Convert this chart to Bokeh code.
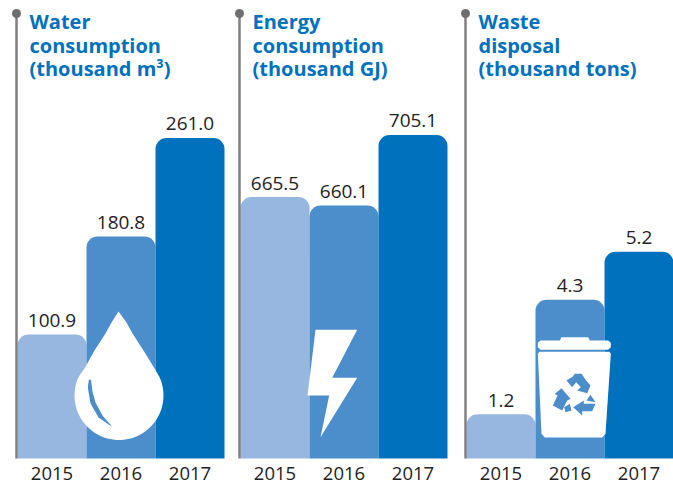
import numpy as np
from bokeh.core.properties import value
from bokeh.embed import file_html
from bokeh.layouts import row
from bokeh.models import ColumnDataSource, FixedTicker, Range1d
from bokeh.plotting import figure
from bokeh.resources import INLINE

years = ["2015", "2016", "2017"]
colors = ["#97b7e0", "#4c8ecb", "#0071bc"]

water_values = [100.9, 180.8, 261.0]
energy_values = [665.5, 660.1, 705.1]
# the third bar of the waste panel is drawn taller than its printed 5.2
waste_labels_values = [1.2, 4.3, 5.2]
waste_heights = [1.2, 4.3, 5.6]

water_title = ["Water", "consumption", "(thousand m³)"]
energy_title = ["Energy", "consumption", "(thousand GJ)"]
waste_title = ["Waste", "disposal", "(thousand tons)"]

BASE = 458.0
BAR = 69.0
TOTAL_H = 484


def panel(values, labels, title, y0, px_per_unit, left, width, bar_left, line_x, title_x):
    def X(px):
        return (np.asarray(px, float) - bar_left) / BAR - 0.5

    def Y(py):
        return y0 + (BASE - np.asarray(py, float)) / px_per_unit

    p = figure(
        frame_width=width, frame_height=TOTAL_H, height=TOTAL_H, width=width,
        x_range=Range1d(float(X(left)), float(X(left + width))),
        y_range=Range1d(float(Y(TOTAL_H)), float(Y(0))),
        output_backend="svg", toolbar_location=None, min_border=0,
        min_border_left=0, min_border_right=0, min_border_top=0, min_border_bottom=0,
        outline_line_color=None,
    )
    p.grid.visible = False
    p.yaxis.visible = False
    ax = p.xaxis[0]
    ax.fixed_location = y0
    ax.ticker = FixedTicker(ticks=[0, 1, 2])
    ax.major_label_overrides = {i: y for i, y in enumerate(years)}
    ax.axis_line_color = None
    ax.major_tick_line_color = None
    ax.minor_tick_line_color = None
    ax.major_label_text_font = "Open Sans"
    ax.major_label_text_font_size = "18.5px"
    ax.major_label_text_color = "#222222"
    ax.major_label_standoff = 2

    src = ColumnDataSource(dict(x=[0, 1, 2], top=values, color=colors,
                                label=[f"{v:.1f}" for v in labels]))
    p.vbar(x="x", top="top", bottom=y0, width=1.0, fill_color="color",
           line_color=None, source=src, border_radius=(11, 11, 0, 0))
    p.text(x="x", y="top", text="label", source=src, text_align="center",
           text_baseline="alphabetic", y_offset=-14, text_font=value("Open Sans"),
           text_font_size="19px", text_color="#222222")

    # stem and dot
    p.segment(float(X(line_x)), float(Y(13)), float(X(line_x)), y0,
              line_color="#808080", line_width=2.5)
    p.scatter([float(X(line_x))], [float(Y(13))], size=9, marker="circle",
              fill_color="#6f6f6f", line_color=None)

    # title
    for line, py in zip(title, [20.5, 44.5, 68]):
        p.text([float(X(title_x))], [float(Y(py))], text=[line], text_align="left",
               text_baseline="alphabetic", text_font=value("Open Sans"),
               text_font_style="bold", text_font_size="20px", text_color="#0071bc")
    return p, X, Y


def poly(p, X, Y, pts, color):
    a = np.array(pts, float)
    p.patch(X(a[:, 0]), Y(a[:, 1]), fill_color=color, line_color=None)


# Water
p1, X, Y = panel(water_values, water_values, water_title, 0.0, 1.228, 0, 232, 17, 16, 29)
th = np.linspace(np.radians(-25), np.radians(205), 60)
arc = np.c_[118.5 + 44.5 * np.cos(th), 395 + 44.5 * np.sin(th)]
drop = [[118, 311], [126, 322], [132, 333], [143, 350], [154, 368]] + arc.tolist() + \
       [[84, 368], [94, 350], [105, 333], [111, 322]]
poly(p1, X, Y, drop, "#ffffff")
crescent = [[88.3, 379.3], [90.5, 379.3], [92, 391], [95, 402], [102, 415], [111, 425.5],
            [111, 426], [98, 417], [90, 403], [87.3, 387]]
poly(p1, X, Y, crescent, colors[1])

# Energy
p2, X, Y = panel(energy_values, energy_values, energy_title, 499.0, 1.57, 232, 226, 240, 239, 252)
bolt = [[315, 329.3], [356.7, 329.3], [331.7, 377.3], [356.7, 377.3], [320, 436.7],
        [328.7, 395], [307, 395]]
poly(p2, X, Y, bolt, "#ffffff")

# Waste
p3, X, Y = panel(waste_heights, waste_labels_values, waste_title, 0.0, 36.9, 458, 215, 466, 465, 478)


def zx(v):
    return 455 + v / 3


def zy(v):
    return 290 + v / 3


def zpoly(pts, color):
    poly(p3, X, Y, [[zx(a), zy(b)] for a, b in pts], color)


zpoly([[313, 150], [318, 140], [398, 140], [403, 150], [458, 150], [466, 157], [466, 170],
       [458, 178], [255, 178], [247, 170], [247, 157], [255, 150]], "#ffffff")
zpoly([[252, 184], [462, 184], [466, 190], [450, 430], [440, 441], [268, 441], [258, 430],
       [247, 190]], "#ffffff")
zpoly([[333, 270], [352, 258], [358, 250], [378, 250], [392, 270], [405, 285], [395, 308],
       [365, 300], [376, 290], [362, 275], [350, 290]], colors[1])
zpoly([[318, 293], [345, 325], [335, 330], [320, 360], [292, 345], [306, 315], [298, 310]], colors[1])
zpoly([[326, 350], [343, 340], [348, 360], [330, 365]], colors[1])
zpoly([[420, 340], [385, 340], [385, 330], [353, 350], [380, 375], [380, 362], [410, 362]], colors[1])
zpoly([[393, 330], [405, 313], [420, 335]], colors[1])

layout = row(p1, p2, p3)
open("out.html", "w").write(file_html(layout, INLINE))
